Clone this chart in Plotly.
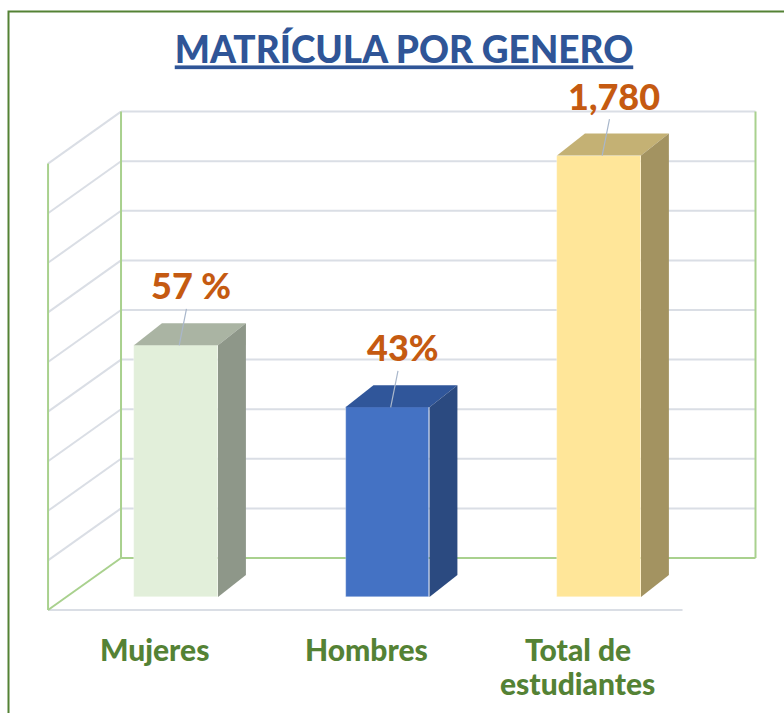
import plotly.graph_objects as go

# ---------------- data ----------------
categories = ["Mujeres", "Hombres", "Total de<br>estudiantes"]
values = [1015, 765, 1780]
value_labels = ["57 %", "43%", "1,780"]
axis_max = 1800
grid_step = 200

# ---------------- style ----------------
W, H = 784, 713
FONT = "Lato"
FRONT = ["#e2efda", "#4472c4", "#ffe699"]
TOP = ["#aab4a3", "#30569a", "#c4b174"]
SIDE = ["#8e9789", "#2b4a80", "#a39361"]
GRID = "#dadee5"
GREEN_LINE = "#a9d18e"
LABEL_ORANGE = "#c55a11"
CAT_GREEN = "#548235"
TITLE_BLUE = "#2f5597"

# geometry in axis units (category units on x, value units on y)
BAR_W = 0.397
DEPTH_DX, DEPTH_DY = 0.132, 88.7        # bar depth offset
FRONT_DX, FRONT_DY = -0.085, -52.4      # floor front plane relative to bar plane
BACK_DX, BACK_DY = 0.26, 157.3          # back wall plane relative to bar plane
XMIN, XMAX = -0.52, 2.48
X_RANGE = [-0.8322, 2.8747]
Y_RANGE = [-467.7, 2407.3]

fig = go.Figure()

# front faces
xs = list(range(len(values)))
fig.add_trace(go.Bar(x=xs, y=values, width=BAR_W,
                     marker=dict(color=FRONT, line=dict(width=0.6, color="rgba(255,255,255,0.5)")),
                     hoverinfo="skip", showlegend=False))

# top and side faces
for i, v in enumerate(values):
    l, r = i - BAR_W / 2, i + BAR_W / 2
    fig.add_trace(go.Scatter(
        x=[l, r, r + DEPTH_DX, l + DEPTH_DX, l],
        y=[v, v, v + DEPTH_DY, v + DEPTH_DY, v],
        mode="lines", fill="toself", fillcolor=TOP[i], line=dict(width=0),
        hoverinfo="skip", showlegend=False))
    fig.add_trace(go.Scatter(
        x=[r, r, r + DEPTH_DX, r + DEPTH_DX, r],
        y=[0, v, v + DEPTH_DY, DEPTH_DY, 0],
        mode="lines", fill="toself", fillcolor=SIDE[i], line=dict(width=0),
        hoverinfo="skip", showlegend=False))

shapes = []
def seg(x0, y0, x1, y1, color, width=2):
    shapes.append(dict(type="line", xref="x", yref="y", x0=x0, y0=y0, x1=x1, y1=y1,
                       line=dict(color=color, width=width), layer="below"))

fl, fr = XMIN + FRONT_DX, XMAX + FRONT_DX
bl, br = XMIN + BACK_DX, XMAX + BACK_DX
for g in range(grid_step, axis_max + grid_step, grid_step):
    seg(bl, g + BACK_DY, br, g + BACK_DY, GRID)            # back wall
    seg(fl, g + FRONT_DY, bl, g + BACK_DY, GRID)           # side wall
# floor
seg(fl, FRONT_DY, fr, FRONT_DY, GRID)
seg(fl, FRONT_DY, bl, BACK_DY, GREEN_LINE)
seg(bl, BACK_DY, br, BACK_DY, GREEN_LINE)
# verticals
seg(fl, FRONT_DY, fl, axis_max + FRONT_DY, GREEN_LINE)
seg(bl, BACK_DY, bl, axis_max + BACK_DY, GREEN_LINE)
seg(br, BACK_DY, br, axis_max + BACK_DY, GREEN_LINE)

# outer frame
shapes.append(dict(type="rect", xref="paper", yref="paper",
                   x0=8.5 / W, x1=1.05, y0=-0.05, y1=1 - 11.5 / H,
                   line=dict(color="#548235", width=2), layer="below"))

annotations = []
# value labels with leader lines
for i, v in enumerate(values):
    annotations.append(dict(x=i + 0.015, y=v, xref="x", yref="y", text=value_labels[i],
                            showarrow=True, arrowhead=0, arrowwidth=1.2, arrowcolor="#a9b7cb",
                            ax=12, ay=-60, standoff=0,
                            font=dict(family=FONT, size=36, color=LABEL_ORANGE, weight=900)))
# category labels (one annotation per text line)
LINE_STEP = 34
for i, c in enumerate(categories):
    for k, line in enumerate(c.split("<br>")):
        annotations.append(dict(x=i - 0.1, y=1 - (629 + k * LINE_STEP) / H, xref="x", yref="paper",
                                text=line, showarrow=False, yanchor="top",
                                font=dict(family=FONT, size=30, color=CAT_GREEN, weight=900)))

fig.update_layout(
    width=W, height=H,
    margin=dict(l=0, r=0, t=0, b=0),
    paper_bgcolor="white", plot_bgcolor="rgba(0,0,0,0)",
    title=dict(text="<u>MATRÍCULA POR GENERO</u>", x=404 / W, xanchor="center",
               y=1 - 50.5 / H, yanchor="middle",
               font=dict(family=FONT, size=37, color=TITLE_BLUE, weight=900)),
    xaxis=dict(range=X_RANGE, visible=False, fixedrange=True),
    yaxis=dict(range=Y_RANGE, visible=False, fixedrange=True),
    shapes=shapes, annotations=annotations, bargap=0,
)

fig.write_html("out.html", config={"displayModeBar": False},
               post_script="document.body.style.margin='0';")
